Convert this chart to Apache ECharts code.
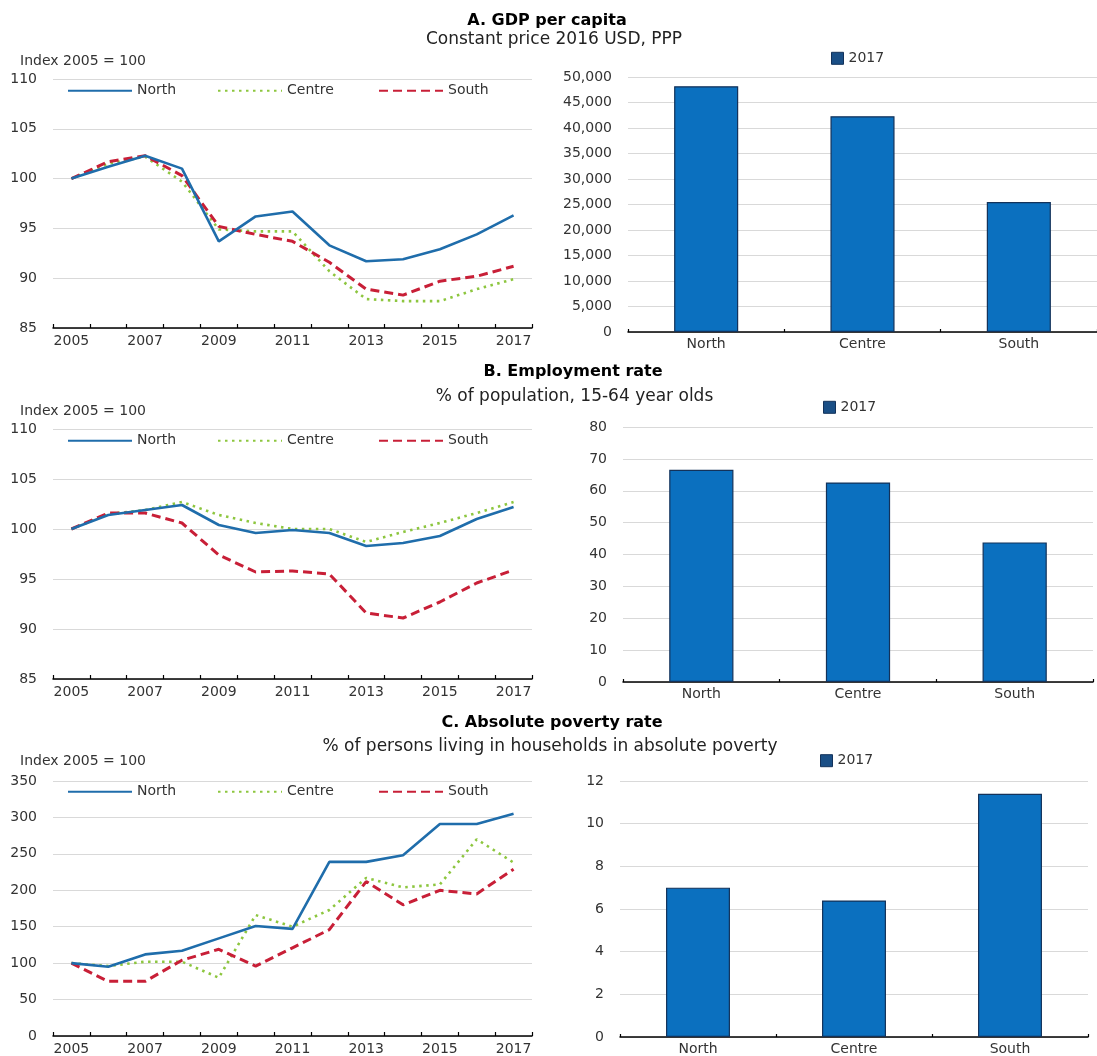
<!DOCTYPE html>
<html><head><meta charset="utf-8">
<script src="https://cdn.jsdelivr.net/npm/echarts@6/dist/echarts.min.js"></script>
<style>html,body{margin:0;padding:0;background:#fff}#c{width:1097px;height:1056px}</style>
</head><body><div id="c"></div>
<script>
// ---------- DATA ----------
const years = ['2005','2006','2007','2008','2009','2010','2011','2012','2013','2014','2015','2016','2017'];
const regions = ['North','Centre','South'];

const gdpNorth  = [100,101.2,102.3,101.0,93.7,96.2,96.7,93.3,91.7,91.9,92.9,94.4,96.3];
const gdpCentre = [100,101.5,102.2,99.7,94.9,94.7,94.7,90.7,87.9,87.7,87.7,88.9,89.9];
const gdpSouth  = [100,101.7,102.3,100.3,95.2,94.4,93.7,91.6,88.9,88.3,89.7,90.2,91.2];
const gdp2017   = [48200,42300,25500];

const empNorth  = [100,101.4,101.9,102.4,100.4,99.6,99.9,99.6,98.3,98.6,99.3,101.0,102.2];
const empCentre = [100,101.5,101.9,102.7,101.4,100.6,100.0,100.0,98.7,99.7,100.6,101.6,102.7];
const empSouth  = [100,101.6,101.6,100.6,97.4,95.7,95.8,95.5,91.6,91.1,92.7,94.6,95.9];
const emp2017   = [66.6,62.6,43.8];

const povNorth  = [100,95,112,117,134,151,147,239,239,248,291,291,305];
const povCentre = [100,96,102,102,80,166,150,173,217,204,208,270,238];
const povSouth  = [100,75,75,104,119,96,121,146,212,180,200,195,229];
const pov2017   = [7.0,6.4,11.4];

const panelTitles = ['A. GDP per capita','B. Employment rate','C. Absolute poverty rate'];
const panelSubtitles = ['Constant price 2016 USD, PPP','% of population, 15-64 year olds','% of persons living in households in absolute poverty'];
const indexLabel = 'Index 2005 = 100';
const barLegendName = '2017';

// ---------- STYLE / LAYOUT ----------
const FONT = 'DejaVu Sans';
const colN = '#1f6dab', colC = '#8dc63f', colS = '#c81f37';
const barFill = '#0b70bf', barBorder = '#13325a';
const gridCol = '#d9d9d9', txt = '#333';

const grids = [
  {left:53, top:79,  width:479, height:249},   // A line
  {left:628,top:77,  width:475, height:255},   // A bar
  {left:53, top:429, width:479, height:250},   // B line
  {left:623,top:427, width:470, height:255},   // B bar
  {left:53, top:781, width:479, height:255},   // C line
  {left:620,top:781, width:468, height:256}    // C bar
];

const lineData = [[gdpNorth,gdpCentre,gdpSouth],[empNorth,empCentre,empSouth],[povNorth,povCentre,povSouth]];
const barData = [gdp2017, emp2017, pov2017];
const lineY = [{min:85,max:110,interval:5},{min:85,max:110,interval:5},{min:0,max:350,interval:50}];
const barY = [{min:0,max:50000,interval:5000},{min:0,max:80,interval:10},{min:0,max:12,interval:2}];

const xAxes = [], yAxes = [], series = [], legends = [], graphics = [];

const yLab = {fontFamily:FONT,fontSize:14,color:txt,margin:16};
for (let p=0;p<3;p++){
  const gl = p*2, gb = p*2+1;
  xAxes.push({gridIndex:gl,type:'category',data:years,boundaryGap:true,
    axisLine:{lineStyle:{color:'#000',width:1.5}},
    axisTick:{show:true,inside:true,length:4,interval:0,lineStyle:{color:'#000',width:1.2}},
    axisLabel:{interval:1,fontFamily:FONT,fontSize:14,color:txt,margin:6}});
  yAxes.push(Object.assign({gridIndex:gl,type:'value',
    axisLine:{show:false},axisTick:{show:false},
    splitLine:{lineStyle:{color:gridCol,width:1}},
    axisLabel:yLab}, lineY[p]));
  xAxes.push({gridIndex:gb,type:'category',data:regions,boundaryGap:true,
    axisLine:{lineStyle:{color:'#000',width:1.5}},
    axisTick:{show:true,inside:true,length:3,interval:0,lineStyle:{color:'#000',width:1.2}},
    axisLabel:{fontFamily:FONT,fontSize:14,color:txt,margin:5}});
  yAxes.push(Object.assign({gridIndex:gb,type:'value',
    axisLine:{show:false},axisTick:{show:false},
    splitLine:{lineStyle:{color:gridCol,width:1}},
    axisLabel:Object.assign({},yLab,{formatter:v=>v.toLocaleString('en-US')})}, barY[p]));

  const styles = [
    {color:colN,width:2.6,type:'solid'},
    {color:colC,width:2.6,type:[2.5,4.5]},
    {color:colS,width:3,type:[9,5]}
  ];
  const zs = [4,2,3];
  for (let s=0;s<3;s++){
    series.push({type:'line',name:regions[s],xAxisIndex:gl,yAxisIndex:gl,
      data:lineData[p][s],symbol:'none',showSymbol:false,animation:false,
      itemStyle:{color:styles[s].color},
      lineStyle:styles[s],z:zs[s]});
  }
  series.push({type:'bar',name:barLegendName,xAxisIndex:gb,yAxisIndex:gb,data:barData[p],
    barWidth:'41%',animation:false,
    itemStyle:{color:barFill,borderColor:barBorder,borderWidth:1.2}});
}

// legends
const legY = [91.7, 441.7, 792.7];
const legX = [67, 217, 378];
for (let p=0;p<3;p++){
  for (let s=0;s<3;s++){
    legends.push({data:[regions[s]],left:legX[s],top:legY[p]-8,itemWidth:64,itemHeight:16,
      padding:0,itemStyle:{opacity:0,color:'transparent',borderWidth:0},
      textStyle:{fontFamily:FONT,fontSize:14,color:txt},selectedMode:false});
  }
}
const barLegY = [58.3, 407.3, 760.7], barLegX = [831, 823, 820];
for (let p=0;p<3;p++){
  legends.push({data:[barLegendName],left:barLegX[p],top:barLegY[p]-7,itemWidth:12,itemHeight:12,
    padding:0,icon:'rect',textStyle:{fontFamily:FONT,fontSize:14,color:txt},selectedMode:false,
    itemStyle:{color:'#1a4f86',borderColor:barBorder,borderWidth:1}});
}

// titles etc.
const titlePos = [[547,20.5],[573,371.7],[552,723.3]];
const subPos = [[554,39.5],[574.5,396.7],[550,746.7]];
const idxY = [61.7, 411.5, 761.7];
for (let p=0;p<3;p++){
  graphics.push({type:'text',x:titlePos[p][0],y:titlePos[p][1],style:{text:panelTitles[p],
    font:'bold 16px "'+FONT+'"',fill:'#000',textAlign:'center',textVerticalAlign:'middle'}});
  graphics.push({type:'text',x:subPos[p][0],y:subPos[p][1],style:{text:panelSubtitles[p],
    font:'17px "'+FONT+'"',fill:'#222',textAlign:'center',textVerticalAlign:'middle'}});
  graphics.push({type:'text',x:20,y:idxY[p],style:{text:indexLabel,
    font:'14px "'+FONT+'"',fill:txt,textAlign:'left',textVerticalAlign:'middle'}});
}

const chart = echarts.init(document.getElementById('c'),null,{renderer:'canvas'});
chart.setOption({
  backgroundColor:'#fff',
  animation:false,
  grid:grids,
  xAxis:xAxes,
  yAxis:yAxes,
  legend:legends,
  series:series,
  graphic:graphics
});
</script>
</body></html>
